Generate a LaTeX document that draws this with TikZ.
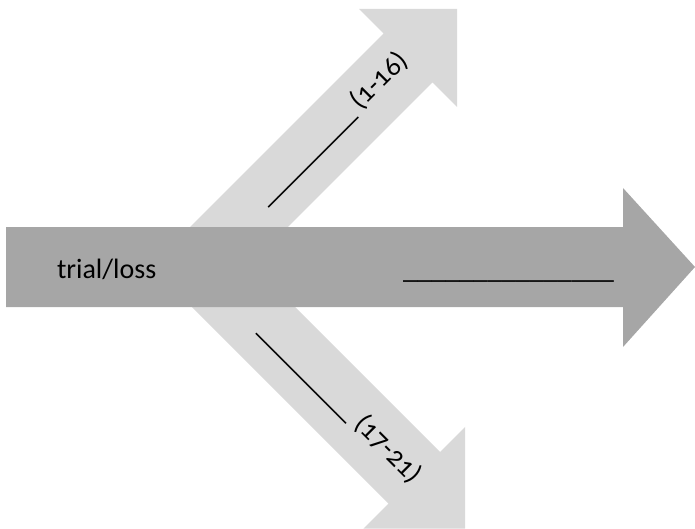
\documentclass[tikz,border=0pt]{standalone}
\usepackage{fontspec}
\setmainfont{Carlito}[Numbers=OldStyle]
\definecolor{mainGray}{HTML}{A6A6A6}
\definecolor{sideGray}{HTML}{D9D9D9}
\tikzset{
  mainarrow/.style={fill=mainGray, draw=none},
  sidearrow/.style={fill=sideGray, draw=none},
  lbl/.style={inner sep=0pt, outer sep=0pt, text=black, font=\fontsize{28}{34}\selectfont}
}
\newcommand{\us}{\_\kern-0.3pt}
\newcommand{\nineblanks}{{\fontsize{29}{34}\selectfont\us\us\us\us\us\us\us\us\_}}
\newcommand{\mainblanks}{{\fontsize{28.8}{34}\selectfont\us\us\us\us\us\us\us\us\us\us\us\us\us\us\_}}
\begin{document}
\begin{tikzpicture}[x=1pt, y=-1pt]
\useasboundingbox (0,0) rectangle (695,529);
% upper diagonal arrow
\fill[sidearrow] (174.6,242.6) -- (383.6,33.6) -- (359,9) -- (457,9) -- (457,107) -- (432.4,82.4) -- (223.4,291.4) -- cycle;
% lower diagonal arrow
\fill[sidearrow] (229.3,241.2) -- (440.05,451.95) -- (465.15,426.85) -- (465.2,528.7) -- (363.35,528.65) -- (388.45,503.55) -- (177.7,292.8) -- cycle;
% main arrow
\fill[mainarrow] (6,227) -- (623,227) -- (623,188) -- (695,267) -- (623,347) -- (623,307) -- (6,307) -- cycle;
% texts
\node[lbl, anchor=base west] (trial) at (57,278) {trial/loss};
\node[lbl, anchor=base west] (blank) at (403,278) {\mainblanks};
\node[lbl, anchor=base west, rotate=45] (up) at (266.2,205.2) {\nineblanks{} (1-16)};
\node[lbl, anchor=base west, rotate=-45] (down) at (258.8,331.2) {\nineblanks{} (17-21)};
\end{tikzpicture}
\end{document}
